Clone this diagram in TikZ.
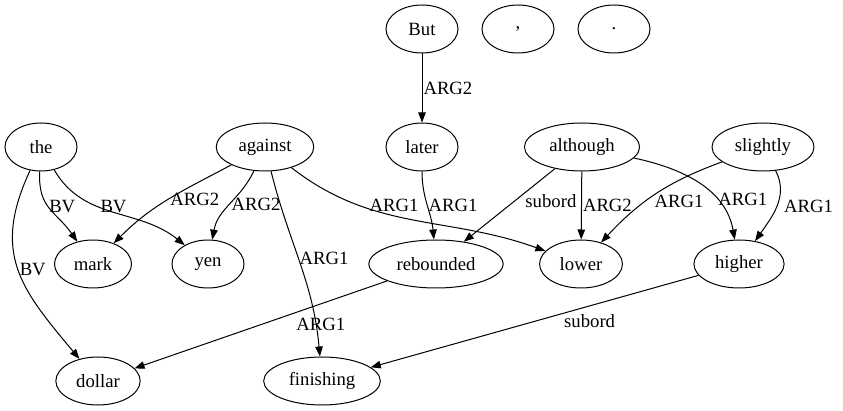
\documentclass[tikz,border=0pt]{standalone}
\usepackage{fontspec}
\setmainfont{Liberation Serif}
\usepackage{tikz}
\usetikzlibrary{arrows.meta, shapes.geometric}

\tikzset{
    word/.style={draw, ellipse, line width=1pt, minimum width=72pt, minimum height=48pt,
        inner xsep=8pt, inner ysep=0pt, font=\fontsize{18.7pt}{22pt}\selectfont},
    dep/.style={->, line width=1pt},
    lbl/.style={inner sep=1pt, font=\fontsize{18.7pt}{22pt}\selectfont}
}

\begin{document}
\begin{tikzpicture}[x=1pt, y=-1pt, >={Triangle[length=10pt,width=7.5pt]}]
    \useasboundingbox (0,0) rectangle (843,411);

    % top row
    \node[word] (but) at (422,29) {But};
    \node[word] (comma) at (518,29) {,};
    \node[word] (period) at (614,29) {.};

    % second row
    \node[word] (the) at (41,147) {the};
    \node[word] (against) at (265,147) {against};
    \node[word] (later) at (422,147) {later};
    \node[word] (although) at (582,147) {although};
    \node[word] (slightly) at (763,147) {slightly};

    % third row
    \node[word] (mark) at (93,264) {mark};
    \node[word] (yen) at (208,264) {yen};
    \node[word] (rebounded) at (436,264) {rebounded};
    \node[word] (lower) at (581,264) {lower};
    \node[word] (higher) at (739,264) {higher};

    % bottom row
    \node[word] (dollar) at (98,381) {dollar};
    \node[word] (finishing) at (322,381) {finishing};

    \draw[dep] (but) -- node[lbl, right] {ARG2} (later);

    \draw[dep] (the) to[out=-93,in=125, looseness=1.2] node[lbl, pos=.45, right] {BV} (mark);
    \draw[dep] (the) to[out=-60,in=141] node[lbl, pos=.38, right, xshift=2pt] {BV} (yen);
    \draw[dep] (the) to[out=-115,in=130, looseness=1.2] node[lbl, pos=.5, right] {BV} (dollar);

    \draw[dep] (against) to[out=-152,in=45] node[lbl, pos=.5, right] {ARG2} (mark);
    \draw[dep] (against) to[out=-115,in=80] node[lbl, pos=.5, right] {ARG2} (yen);
    \draw[dep] (against) to[out=-76,in=95] node[lbl, pos=.47, right] {ARG1} (finishing);
    \draw[dep] (against) to[out=-38,in=160] node[lbl, pos=.28, right, xshift=9pt] {ARG1} (lower);

    \draw[dep] (later) to[out=-90,in=95] node[lbl, pos=.5, right] {ARG1} (rebounded);

    \draw[dep] (although) -- node[lbl, pos=.45, right, xshift=10pt] {subord} (rebounded);
    \draw[dep] (although) -- node[lbl, right] {ARG2} (lower);
    \draw[dep] (although) to[out=-12,in=100] node[lbl, pos=.68, right] {ARG1} (higher);

    \draw[dep] (slightly) to[out=-160,in=47] node[lbl, pos=.6, right, xshift=8pt] {ARG1} (lower);
    \draw[dep] (slightly) to[out=-62,in=55] node[lbl, pos=.5, right, xshift=6pt] {ARG1} (higher);

    \draw[dep] (rebounded) -- node[lbl, pos=.5, right, xshift=34pt] {ARG1} (dollar);
    \draw[dep] (higher) -- node[lbl, pos=.5, right, xshift=28pt] {subord} (finishing);
\end{tikzpicture}
\end{document}
